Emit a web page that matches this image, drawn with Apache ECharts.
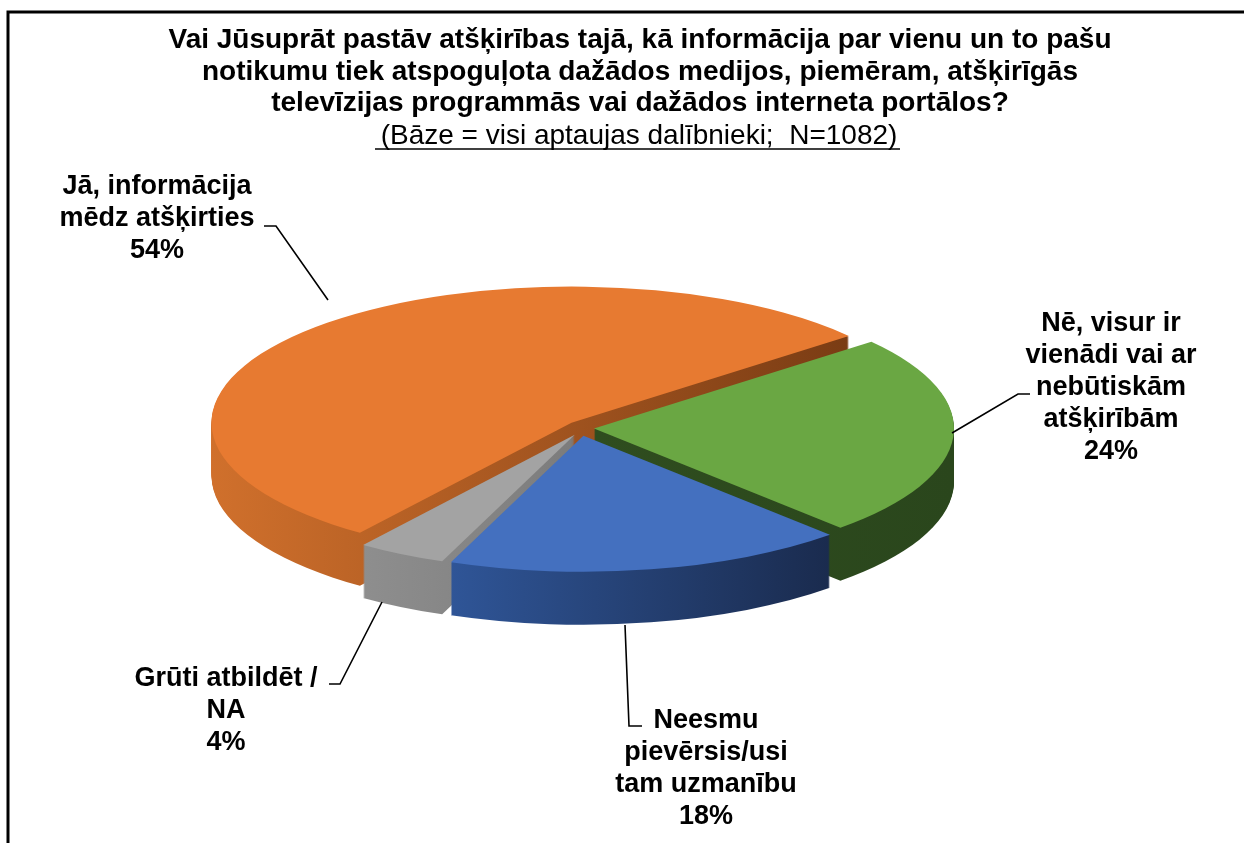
<!DOCTYPE html>
<html>
<head>
<meta charset="utf-8">
<script src="https://cdn.jsdelivr.net/npm/echarts@6/dist/echarts.min.js"></script>
<style>
  html, body { margin: 0; padding: 0; background: #fff; }
  #chart { width: 1244px; height: 843px; }
</style>
</head>
<body>
<div id="chart"></div>
<script>
// atbilžu kategorijas un procenti
var categories = [
  'Jā, informācija\nmēdz atšķirties',
  'Nē, visur ir\nvienādi vai ar\nnebūtiskām\natšķirībām',
  'Neesmu\npievērsis/usi\ntam uzmanību',
  'Grūti atbildēt /\nNA'
];
var values = [54, 24, 18, 4];

var titleText = 'Vai Jūsuprāt pastāv atšķirības tajā, kā informācija par vienu un to pašu\n' +
  'notikumu tiek atspoguļota dažādos medijos, piemēram, atšķirīgās\n' +
  'televīzijas programmās vai dažādos interneta portālos?';
var subText = '(Bāze = visi aptaujas dalībnieki;  N=1082)';

var topColors = ['#E77A31', '#6AA743', '#4470BF', '#A3A3A3'];
function grad(c1, c2) {
  return new echarts.graphic.LinearGradient(0, 0, 1, 0, [
    {offset: 0, color: c1}, {offset: 1, color: c2}
  ]);
}
var sideColors = [
  grad('#D0702C', '#7A3C14'),
  grad('#2F4D1F', '#2A461C'),
  grad('#2F5597', '#1A2B4E'),
  grad('#8E8E8E', '#7C7C7C')
];

// etiķešu centri
var labelPos = [
  {x: 157, y: 219},
  {x: 1111, y: 388},
  {x: 706, y: 769},
  {x: 226, y: 711}
];

var cx = 581, cy = 428, rad = 360, flat = 0.378, depth = 53, explode = 13;
var fontMain = '"Liberation Sans", Arial, sans-serif';

var chartDom = document.getElementById('chart');
var myChart = echarts.init(chartDom);

function makeData(colors) {
  return categories.map(function (c, i) {
    return {name: c, value: values[i], itemStyle: {color: colors[i]}};
  });
}

var series = [];
// sānu slāņi (3D biezums)
for (var k = depth; k > 0; k -= 1) {
  series.push({
    type: 'pie',
    z: 1,
    silent: true,
    center: [cx, cy + k],
    radius: [0, rad],
    startAngle: 234,
    label: {show: false},
    labelLine: {show: false},
    emphasis: {disabled: true},
    data: makeData(sideColors)
  });
}
series.push({
  type: 'pie',
  z: 2,
  center: [cx, cy],
  radius: [0, rad],
  startAngle: 234,
  emphasis: {disabled: true},
  label: {
    show: true,
    formatter: '{b}\n{c}%',
    fontFamily: fontMain,
    fontWeight: 'bold',
    fontSize: 27,
    lineHeight: 32,
    color: '#000',
    align: 'center'
  },
  labelLine: {show: false},
  labelLayout: function (params) {
    var p = labelPos[params.dataIndex];
    return {x: p.x, y: p.y, align: 'center', verticalAlign: 'middle', hideOverlap: false};
  },
  data: makeData(topColors)
});

function guide(points) {
  return {
    type: 'polyline',
    z: 10,
    shape: {points: points},
    style: {stroke: '#000', lineWidth: 1.6, fill: null},
    silent: true
  };
}

var option = {
  backgroundColor: '#ffffff',
  animation: false,
  title: [
    {
      text: titleText,
      left: 635,
      textAlign: 'center',
      top: 20,
      textStyle: {
        fontFamily: fontMain,
        fontWeight: 'bold',
        fontSize: 28,
        lineHeight: 31.5,
        color: '#000'
      }
    },
    {
      text: subText,
      left: 634,
      textAlign: 'center',
      top: 117,
      textStyle: {
        fontFamily: fontMain,
        fontWeight: 'normal',
        fontSize: 28,
        color: '#000'
      }
    }
  ],
  graphic: [
    {
      type: 'rect',
      shape: {x: 8, y: 12, width: 1400, height: 1000},
      style: {fill: 'none', stroke: '#000', lineWidth: 3},
      silent: true
    },
    {
      type: 'line',
      shape: {x1: 375, y1: 149, x2: 900, y2: 149},
      style: {stroke: '#000', lineWidth: 1.5},
      silent: true
    },
    guide([[264, 226], [276, 226], [328, 300]]),
    guide([[952, 433], [1018, 394], [1030, 394]]),
    guide([[329, 684], [340, 684], [382, 602]]),
    guide([[625, 625], [629, 726], [642, 726]])
  ],
  series: series
};

myChart.setOption(option);

// saspiež apļus elipsēs (slīpuma efekts) un nedaudz izbīda daļas
function flatten() {
  var list = myChart.getZr().storage.getDisplayList(true);
  list.forEach(function (el) {
    if (el.type === 'sector' && el.shape && el.shape.r > 100) {
      var mid = (el.shape.startAngle + el.shape.endAngle) / 2;
      el.originX = el.shape.cx;
      el.originY = el.shape.cy;
      el.scaleY = flat;
      el.x = Math.cos(mid) * explode;
      el.y = Math.sin(mid) * explode * 0.6;
      el.markRedraw();
    }
  });
}
flatten();
</script>
</body>
</html>
